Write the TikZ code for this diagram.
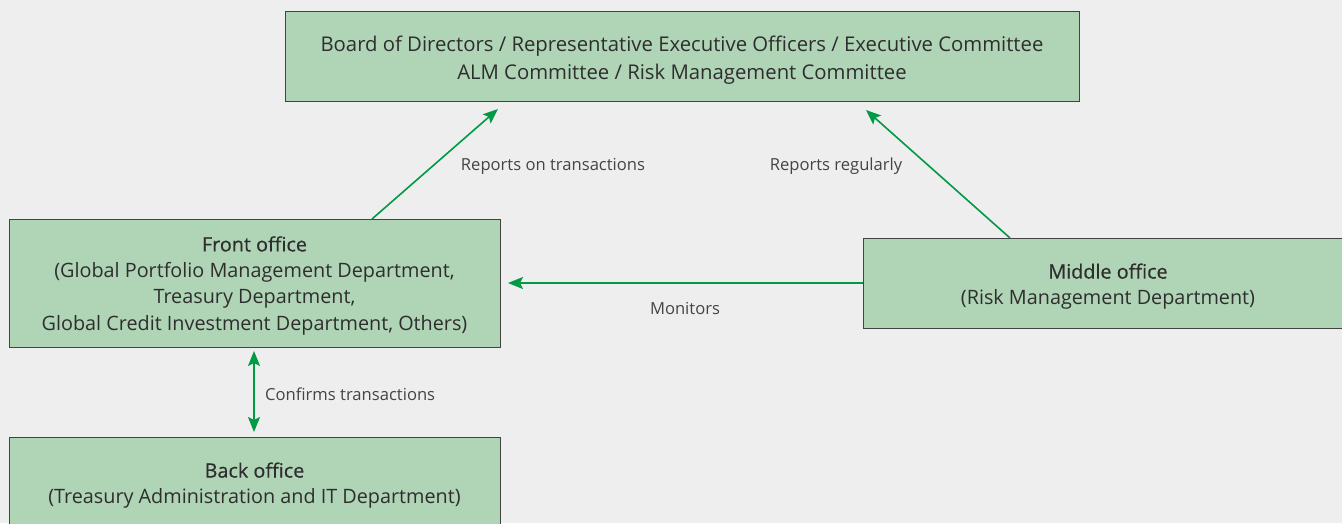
\documentclass[tikz,border=0pt]{standalone}
\usepackage{fontspec}
\setmainfont{Open Sans}
\newfontfamily\medfont[FakeBold=0.5]{Open Sans}
\usetikzlibrary{arrows.meta}
\definecolor{bgc}{HTML}{EEEEEE}
\definecolor{boxc}{HTML}{B0D4B6}
\definecolor{arr}{HTML}{009944}
\definecolor{txt}{HTML}{2E2E2E}
\definecolor{lbl}{HTML}{444444}
\tikzset{
  box/.style={draw=txt!90, line width=1pt, fill=boxc, inner sep=0pt, anchor=north west},
  btext/.style={align=center, text=txt, font=\fontsize{19.8}{26.2}\selectfont, inner sep=0pt},
  tip/.style={Stealth[length=15pt,width=12pt,inset=3pt]},
  conn/.style={draw=arr, line width=1.6pt, -{Stealth[length=15pt,width=12pt,inset=3pt]}},
  dconn/.style={draw=arr, line width=1.6pt, {Stealth[length=15pt,width=12pt,inset=3pt]}-{Stealth[length=15pt,width=12pt,inset=3pt]}},
  lab/.style={text=lbl, font=\fontsize{16.6}{18}\selectfont, inner sep=0pt}
}
\begin{document}
\begin{tikzpicture}[x=1pt,y=-1pt]
\useasboundingbox (0,0) rectangle (1342,523);
\fill[bgc] (0,0) rectangle (1342,523);
\node[box, minimum width=794pt, minimum height=90pt] (top) at (285,11) {};
\node[btext, font=\fontsize{20.3}{28}\selectfont] (toptext) at (682,60.5)
  {Board of Directors / Representative Executive Officers / Executive Committee\\ALM Committee / Risk Management Committee};
\node[box, minimum width=491pt, minimum height=128pt] (front) at (9,219) {};
\node[btext] (fronttext) at (254.5,285.5)
  {{\medfont Front office}\\(Global Portfolio Management Department,\\Treasury Department,\\Global Credit Investment Department, Others)};
\node[box, minimum width=484pt, minimum height=90pt] (mid) at (863,238) {};
\node[btext] (midtext) at (1108,286.5)
  {{\medfont Middle office}\\(Risk Management Department)};
\node[box, minimum width=491pt, minimum height=92pt] (back) at (9,437) {};
\node[btext] (backtext) at (254.5,485.5)
  {{\medfont Back office}\\(Treasury Administration and IT Department)};
\coordinate (t1) at (498,109);
\coordinate (t2) at (866,110);
\coordinate (f1) at (372,219);
\coordinate (m1) at (1010,238);
\coordinate (fm) at (508,283);
\coordinate (mm) at (863,283);
\coordinate (fb) at (254,351);
\coordinate (bf) at (254,432);
\draw[conn] (f1) -- (t1);
\draw[conn] (m1) -- (t2);
\draw[conn] (mm) -- (fm);
\draw[dconn] (bf) -- (fb);
\node[lab] (l1) at (553,166) {Reports on transactions};
\node[lab] (l2) at (836,166) {Reports regularly};
\node[lab] (l3) at (685,308) {Monitors};
\node[lab, anchor=west] (l4) at (265,394) {Confirms transactions};
\end{tikzpicture}
\end{document}
